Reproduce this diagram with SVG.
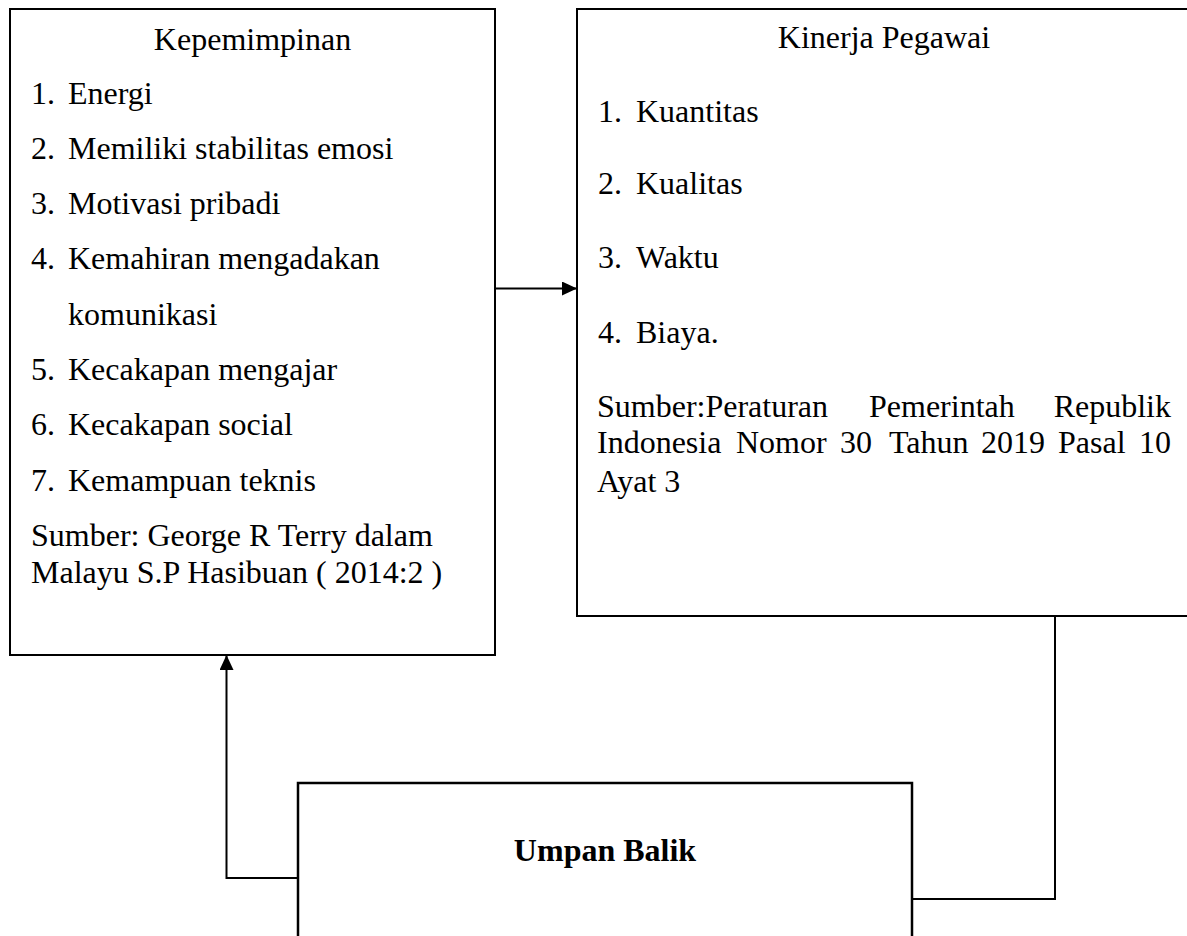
<svg xmlns="http://www.w3.org/2000/svg" width="1187" height="936" viewBox="0 0 1187 936">
<defs>
<style>
.box{fill:#fff;stroke:#000;stroke-width:2}
.t{font-family:"Liberation Serif","Times New Roman",serif;font-size:32px;fill:#000}
.b{font-weight:bold}
.c{fill:none;stroke:#000;stroke-width:2}
</style>
<marker id="ah" viewBox="0 0 15 14" refX="15" refY="7" markerWidth="15" markerHeight="14" markerUnits="userSpaceOnUse" orient="auto">
<path d="M0,0 L15,7 L0,14 Z" fill="#000"/>
</marker>
</defs>
<rect width="1187" height="936" fill="#fff"/>
<g id="kepemimpinan">
<rect class="box" x="10" y="9" width="485" height="646"/>
<text class="t" x="252.5" y="50" text-anchor="middle">Kepemimpinan</text>
<text class="t" x="31" y="104">1.</text><text class="t" x="68" y="104">Energi</text>
<text class="t" x="31" y="159">2.</text><text class="t" x="68" y="159">Memiliki stabilitas emosi</text>
<text class="t" x="31" y="214">3.</text><text class="t" x="68" y="214">Motivasi pribadi</text>
<text class="t" x="31" y="269">4.</text><text class="t" x="68" y="269">Kemahiran mengadakan</text>
<text class="t" x="68" y="325">komunikasi</text>
<text class="t" x="31" y="380">5.</text><text class="t" x="68" y="380">Kecakapan mengajar</text>
<text class="t" x="31" y="435">6.</text><text class="t" x="68" y="435">Kecakapan social</text>
<text class="t" x="31" y="491">7.</text><text class="t" x="68" y="491">Kemampuan teknis</text>
<text class="t" x="31" y="546">Sumber: George R Terry dalam</text>
<text class="t" x="31" y="583">Malayu S.P Hasibuan ( 2014:2 )</text>
</g>
<g id="kinerja">
<rect class="box" x="577" y="9" width="614" height="607"/>
<text class="t" x="884" y="48" text-anchor="middle">Kinerja Pegawai</text>
<text class="t" x="598" y="122">1.</text><text class="t" x="636" y="122">Kuantitas</text>
<text class="t" x="598" y="194">2.</text><text class="t" x="636" y="194">Kualitas</text>
<text class="t" x="598" y="268">3.</text><text class="t" x="636" y="268">Waktu</text>
<text class="t" x="598" y="343">4.</text><text class="t" x="636" y="343">Biaya.</text>
<text class="t" y="417"><tspan x="597">Sumber:Peraturan</tspan><tspan x="869">Pemerintah</tspan><tspan x="1171" text-anchor="end">Republik</tspan></text>
<text class="t" y="453"><tspan x="597">Indonesia</tspan><tspan x="736">Nomor</tspan><tspan x="840">30</tspan><tspan x="889">Tahun</tspan><tspan x="981">2019</tspan><tspan x="1058">Pasal</tspan><tspan x="1171" text-anchor="end">10</tspan></text>
<text class="t" x="597" y="492">Ayat 3</text>
</g>
<g id="umpan-balik">
<rect class="box" x="298" y="783" width="614" height="180" style="stroke-width:2.5"/>
<text class="t b" x="605" y="861" text-anchor="middle">Umpan Balik</text>
</g>
<g id="connectors">
<line class="c" x1="495" y1="288.5" x2="577" y2="288.5" marker-end="url(#ah)"/>
<polyline class="c" points="1055,616 1055,899 912,899"/>
<polyline class="c" points="298,878 226.5,878 226.5,655" marker-end="url(#ah)"/>
</g>
</svg>
